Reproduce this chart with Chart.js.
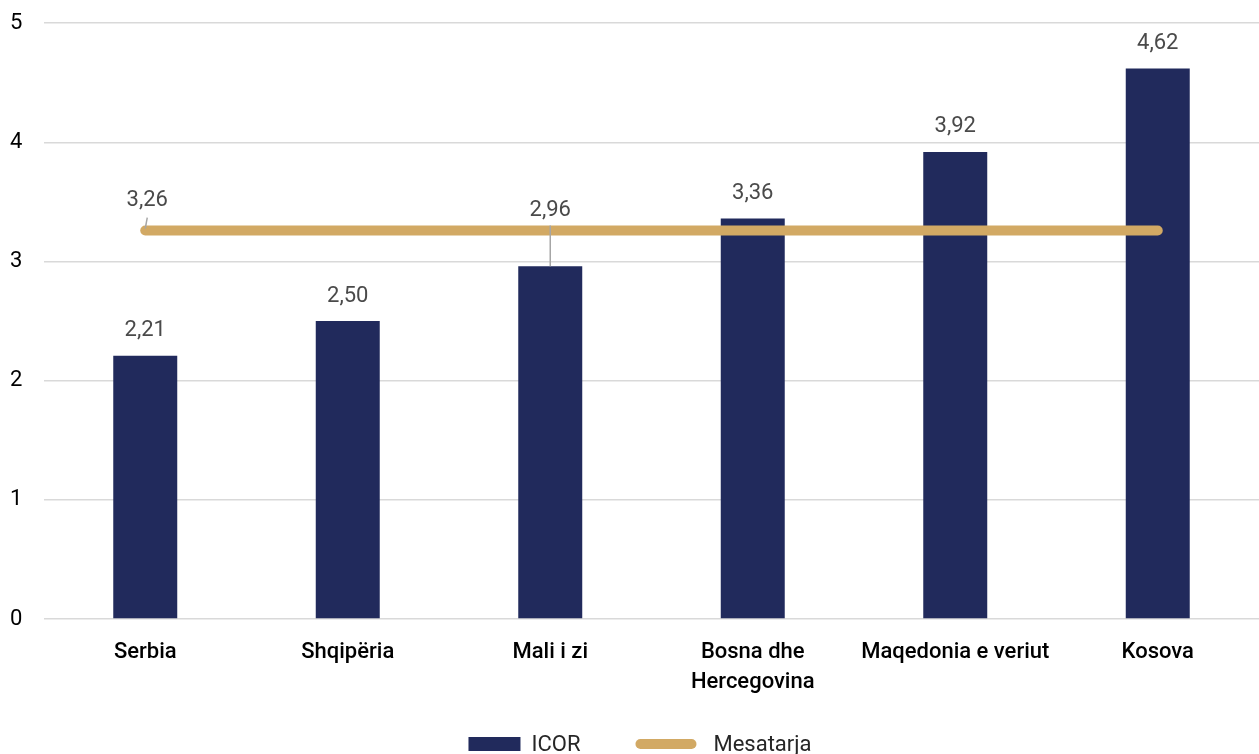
<!DOCTYPE html>
<html>
<head>
<meta charset="utf-8">
<script src="https://cdn.jsdelivr.net/npm/chart.js@4.4.1/dist/chart.umd.min.js"></script>
<style>
  html, body { margin: 0; padding: 0; background: #ffffff; }
  #wrap { width: 1259px; height: 754px; position: relative; }
</style>
</head>
<body>
<div id="wrap"><canvas id="chart" width="1259" height="754"></canvas></div>
<script>
// ICOR by country and the regional average
const categories = ['Serbia', 'Shqipëria', 'Mali i zi', ['Bosna dhe', 'Hercegovina'], 'Maqedonia e veriut', 'Kosova'];
const icorValues = [2.21, 2.50, 2.96, 3.36, 3.92, 4.62];
const averageValues = [3.26, 3.26, 3.26, 3.26, 3.26, 3.26];
const yTickValues = [0, 1, 2, 3, 4, 5];
const seriesNames = ['ICOR', 'Mesatarja'];

const NAVY = '#212a5c';
const GOLD = '#d2a964';
const FONT = 'Roboto, "DejaVu Sans", sans-serif';

const fmt = v => v.toFixed(2).replace('.', ',');

// Value labels with leader lines, plus a legend drawn under the axis
const labelPlugin = {
  id: 'valueLabels',
  afterDatasetsDraw(chart) {
    const ctx = chart.ctx;
    const barMeta = chart.getDatasetMeta(0);
    const lineMeta = chart.getDatasetMeta(1);
    const lineY = lineMeta.data[0].y;
    ctx.save();
    ctx.font = '400 22px ' + FONT;
    ctx.fillStyle = '#4a4a4a';
    ctx.textAlign = 'center';
    ctx.textBaseline = 'middle';
    ctx.strokeStyle = '#a6a6a6';
    ctx.lineWidth = 1.5;

    barMeta.data.forEach((bar, i) => {
      let ty = bar.y - 25;
      if (Math.abs(ty - lineY) < 16) {
        // label would sit on the average line: lift it above and add a leader
        ty = lineY - 20;
        ctx.beginPath();
        ctx.moveTo(bar.x, bar.y);
        ctx.lineTo(bar.x, lineY - 5);
        ctx.stroke();
      }
      ctx.fillText(fmt(icorValues[i]), bar.x, ty);
    });

    // average label on its first point only
    const p = lineMeta.data[0];
    ctx.beginPath();
    ctx.moveTo(p.x, p.y - 2);
    ctx.lineTo(p.x + 2, p.y - 13);
    ctx.stroke();
    ctx.fillText(fmt(averageValues[0]), p.x + 2, p.y - 30);
    ctx.restore();
  },
  afterDraw(chart) {
    const ctx = chart.ctx;
    ctx.save();
    ctx.font = '400 22px ' + FONT;
    ctx.textBaseline = 'middle';
    ctx.textAlign = 'left';
    const y = 744;
    const boxW = 52, gapText = 11, gapItem = 55, lineW = 61;
    const w0 = ctx.measureText(seriesNames[0]).width;
    const w1 = ctx.measureText(seriesNames[1]).width;
    const total = boxW + gapText + w0 + gapItem + lineW + 17 + w1;
    let x = 640 - total / 2;
    ctx.fillStyle = NAVY;
    ctx.fillRect(x, y - 7, boxW, 14);
    x += boxW + gapText;
    ctx.fillStyle = '#262626';
    ctx.fillText(seriesNames[0], x, y + 1);
    x += w0 + gapItem;
    ctx.strokeStyle = GOLD;
    ctx.lineWidth = 10;
    ctx.lineCap = 'round';
    ctx.beginPath();
    ctx.moveTo(x + 5, y);
    ctx.lineTo(x + lineW - 5, y);
    ctx.stroke();
    x += lineW + 17;
    ctx.fillStyle = '#262626';
    ctx.fillText(seriesNames[1], x, y + 1);
    ctx.restore();
  }
};

new Chart(document.getElementById('chart'), {
  type: 'bar',
  data: {
    labels: categories,
    datasets: [
      {
        type: 'bar',
        label: seriesNames[0],
        data: icorValues,
        backgroundColor: NAVY,
        borderWidth: 0,
        barPercentage: 0.316,
        categoryPercentage: 1,
        order: 2
      },
      {
        type: 'line',
        label: seriesNames[1],
        data: averageValues,
        borderColor: GOLD,
        backgroundColor: GOLD,
        borderWidth: 10,
        borderCapStyle: 'round',
        pointRadius: 0,
        pointHoverRadius: 0,
        tension: 0,
        order: 1
      }
    ]
  },
  options: {
    responsive: false,
    animation: false,
    devicePixelRatio: 1,
    layout: { padding: { top: 12, right: 0, bottom: 0, left: 10 } },
    plugins: {
      legend: { display: false },
      tooltip: { enabled: false }
    },
    scales: {
      x: {
        grid: { display: false, drawTicks: false },
        border: { display: false },
        ticks: {
          color: '#000000',
          font: { family: FONT, size: 22, weight: '500', lineHeight: 1.36 },
          padding: 19,
          maxRotation: 0,
          autoSkip: false
        },
        afterFit(scale) { scale.height = 135; }
      },
      y: {
        min: 0,
        max: 5,
        afterBuildTicks(scale) { scale.ticks = yTickValues.map(v => ({ value: v })); },
        grid: { color: '#d9d9d9', lineWidth: 1.5, drawTicks: false },
        border: { display: false },
        ticks: {
          color: '#000000',
          font: { family: FONT, size: 22 },
          padding: 10,
          crossAlign: 'far',
          callback: v => String(v)
        },
        afterFit(scale) { scale.width = 34; }
      }
    }
  },
  plugins: [labelPlugin]
});
</script>
</body>
</html>
